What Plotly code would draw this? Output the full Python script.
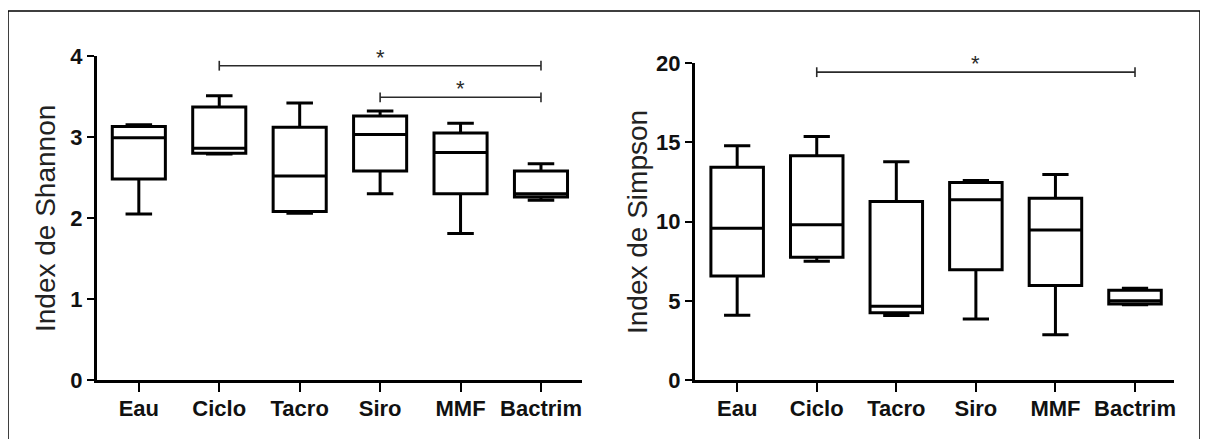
import plotly.graph_objects as go

groups = ["Eau", "Ciclo", "Tacro", "Siro", "MMF", "Bactrim"]

# Shannon index box stats
sh_low = [2.05, 2.79, 2.06, 2.30, 1.81, 2.22]
sh_q1 = [2.48, 2.80, 2.08, 2.58, 2.30, 2.26]
sh_med = [2.99, 2.86, 2.52, 3.03, 2.81, 2.30]
sh_q3 = [3.13, 3.37, 3.12, 3.26, 3.05, 2.58]
sh_high = [3.15, 3.51, 3.42, 3.32, 3.17, 2.67]

# Simpson index box stats
si_low = [4.09, 7.50, 4.07, 3.86, 2.85, 4.75]
si_q1 = [6.57, 7.75, 4.24, 6.97, 5.96, 4.80]
si_med = [9.58, 9.81, 4.66, 11.39, 9.47, 5.00]
si_q3 = [13.43, 14.16, 11.28, 12.48, 11.47, 5.67]
si_high = [14.80, 15.38, 13.79, 12.60, 12.97, 5.79]

# significance brackets: (from, to, level)
sig_shannon = [("Ciclo", "Bactrim", 3.88), ("Siro", "Bactrim", 3.49)]
sig_simpson = [("Ciclo", "Bactrim", 19.44)]

W, H = 1208, 439
OFF = 8  # page body margin
FONT = "Arial, Liberation Sans, sans-serif"


def px(x):
    return (x - OFF) / W


def py(y):
    return (H - (y - OFF)) / H


fig = go.Figure()


def add_box(xa, ya, low, q1, med, q3, high):
    fig.add_trace(go.Box(
        x=groups, lowerfence=low, q1=q1, median=med, q3=q3, upperfence=high,
        xaxis=xa, yaxis=ya, width=0.66, whiskerwidth=0.5,
        line=dict(color="black", width=3), fillcolor="white",
        boxpoints=False, hoverinfo="skip",
    ))


def add_sig(xa, ya, sigs, yref):
    for a, b, lvl in sigs:
        fig.add_trace(go.Scatter(
            x=[a, b], y=[lvl, lvl], xaxis=xa, yaxis=ya, mode="lines+markers",
            line=dict(color="#2a2a2a", width=1.6),
            marker=dict(symbol="line-ns-open", size=7, line=dict(color="#2a2a2a", width=1.6)),
            hoverinfo="skip", cliponaxis=False,
        ))
        i, j = groups.index(a), groups.index(b)
        fig.add_annotation(
            x=(i + j) / 2, y=lvl, xref=xa, yref=yref, text="*", showarrow=False,
            yanchor="bottom", yshift=-6, font=dict(family=FONT, size=22, color="#2a2a2a"),
        )


add_box("x", "y", sh_low, sh_q1, sh_med, sh_q3, sh_high)
add_box("x2", "y2", si_low, si_q1, si_med, si_q3, si_high)
add_sig("x", "y", sig_shannon, "y")
add_sig("x2", "y2", sig_simpson, "y2")

axis_common = dict(
    showline=True, linecolor="black", linewidth=3, showgrid=False, zeroline=False,
    ticks="outside", tickcolor="black", tickwidth=2, automargin=False,
    tickfont=dict(family=FONT, size=22, color="#111", weight="bold"),
)

fig.update_layout(
    template="none",
    width=W, height=H, margin=dict(l=0, r=0, t=0, b=0, pad=0),
    paper_bgcolor="white", plot_bgcolor="white", showlegend=False,
    xaxis=dict(domain=[px(97), px(582)], range=[-0.52, 5.51], anchor="y",
               ticklen=9, ticklabelstandoff=-2, **axis_common),
    yaxis=dict(domain=[py(380), py(56)], range=[0, 4], dtick=1,
               anchor="x", ticklen=7, **axis_common),
    xaxis2=dict(domain=[px(695), px(1174)], range=[-0.53, 5.49], anchor="y2",
                ticklen=9, ticklabelstandoff=-2, **axis_common),
    yaxis2=dict(domain=[py(380), py(63.3)], range=[0, 20], dtick=5,
                anchor="x2", ticklen=7, **axis_common),
)

# axis titles
fig.add_annotation(x=px(46), y=py(219), xref="paper", yref="paper",
                   xanchor="center", yanchor="middle",
                   text="Index de Shannon", textangle=-90, showarrow=False,
                   font=dict(family=FONT, size=28, color="#222"))
fig.add_annotation(x=px(638), y=py(222), xref="paper", yref="paper",
                   xanchor="center", yanchor="middle",
                   text="Index de Simpson", textangle=-90, showarrow=False,
                   font=dict(family=FONT, size=28, color="#222"))

# frame around the figure
fig.add_shape(type="rect", xref="paper", yref="paper",
              x0=px(8), x1=px(1200), y0=py(460), y1=py(11),
              line=dict(color="black", width=1.5))

fig.write_html("out.html")
